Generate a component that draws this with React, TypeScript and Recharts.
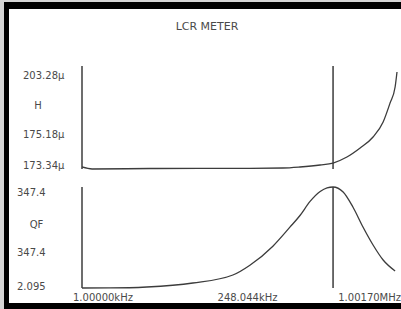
import { Line, LineChart, ReferenceLine, XAxis, YAxis } from "recharts";

// sweep position (0 = start frequency, 100 = stop frequency)
const sweepL = [0, 3.2, 21.6, 37.5, 53.3, 63.8, 69.2, 75.6, 79.7, 84.1, 88.3, 92.4, 95.6, 97.8, 99.4, 100];
const inductance = [173.96, 173.34, 173.49, 173.56, 173.56, 173.65, 173.96, 174.57, 175.18, 177.04, 179.82, 183.22, 187.85, 193.71, 198.65, 203.28];

const sweepQ = [0, 8.9, 20.6, 35.2, 47.9, 53.3, 60.6, 66.0, 69.2, 72.4, 75.6, 77.8, 79.7, 82.9, 86.0, 89.2, 92.4, 95.6, 99.4];
const qualityFactor = [2.095, 2.3, 5.5, 19.2, 46.5, 80.0, 145.0, 210.0, 250.0, 298.0, 332.0, 344.5, 347.4, 330.3, 279.0, 210.6, 149.1, 97.8, 60.2];

const markerStep = 79.7;

const lTicks = [173.34, 183.32, 193.3, 203.28];
const lTickLabels = ["173.34µ", "175.18µ", "H", "203.28µ"];
const qTicks = [2.095, 117.197, 232.298, 347.4];
const qTickLabels = ["2.095", "347.4", "QF", "347.4"];
const freqTicks = [0, 50, 100];
const freqLabels = ["1.00000kHz", "248.044kHz", "1.00170MHz"];

const lData = sweepL.map((s, i) => ({ s, l: inductance[i] }));
const qData = sweepQ.map((s, i) => ({ s, q: qualityFactor[i] }));

const ink = "#3c3c3c";
const textColor = "#4a4a4a";
const font = "'DejaVu Sans', sans-serif";

function makeYTick(labels: string[], nudge: number[], numX: number, unitX: number, unitIdx: number) {
  return (props: any) => {
    const i = props.index;
    const unit = i === unitIdx;
    return (
      <text
        x={unit ? unitX : numX}
        y={props.y + nudge[i]}
        textAnchor={unit ? "middle" : "start"}
        dominantBaseline="central"
        fill={textColor}
        fontSize={10}
        fontFamily={font}
      >
        {labels[i]}
      </text>
    );
  };
}

function FreqTick(props: any) {
  const i = props.index;
  const anchor = ["start", "middle", "end"][i] as "start" | "middle" | "end";
  const dx = [-9, 8, 4][i];
  return (
    <text
      x={props.x + dx}
      y={props.y + 1}
      textAnchor={anchor}
      dominantBaseline="central"
      fill={textColor}
      fontSize={10}
      fontFamily={font}
    >
      {freqLabels[i]}
    </text>
  );
}

export default function App() {
  return (
    <div style={{ position: "absolute", left: 0, top: 0, width: 401, height: 309, overflow: "hidden", background: "#000" }}>
      {/* grey page edge around the meter bezel */}
      <div style={{ position: "absolute", left: 0, top: 0, width: 4, height: 309, background: "#d5d5d5" }} />
      <div style={{ position: "absolute", left: 0, top: 0, width: 401, height: 2, background: "#d5d5d5" }} />

      {/* white screen, charts live only inside it */}
      <div style={{ position: "absolute", left: 9, top: 9, width: 392, height: 294, background: "#fff", overflow: "hidden" }}>
        <div
          style={{
            position: "absolute",
            left: 98,
            width: 200,
            top: 11,
            textAlign: "center",
            fontFamily: font,
            fontSize: 11,
            color: textColor,
          }}
        >
          LCR METER
        </div>

        <div style={{ position: "absolute", left: 0, top: 0 }}>
          <LineChart width={392} height={166} data={lData} margin={{ top: 57, right: 4, bottom: 6, left: 0 }}>
            <XAxis dataKey="s" type="number" domain={[0, 100]} hide />
            <YAxis
              type="number"
              domain={[173.34, 203.28]}
              ticks={lTicks}
              interval={0}
              width={73}
              padding={{ top: 6, bottom: 0 }}
              axisLine={{ stroke: ink, strokeWidth: 1.5 }}
              tickLine={false}
              tick={makeYTick(lTickLabels, [-4, -2, 1, 3], 14, 29, 2)}
            />
            <ReferenceLine x={markerStep} stroke={ink} strokeWidth={1.5} />
            <Line type="monotone" dataKey="l" stroke={ink} strokeWidth={1.3} dot={false} isAnimationActive={false} />
          </LineChart>
        </div>

        <div style={{ position: "absolute", left: 0, top: 171 }}>
          <LineChart width={392} height={123} data={qData} margin={{ top: 7, right: 4, bottom: 0, left: 0 }}>
            <XAxis
              dataKey="s"
              type="number"
              domain={[0, 100]}
              ticks={freqTicks}
              interval={0}
              height={15}
              axisLine={false}
              tickLine={false}
              tick={FreqTick}
            />
            <YAxis
              type="number"
              domain={[2.095, 347.4]}
              ticks={qTicks}
              interval={0}
              width={73}
              axisLine={{ stroke: ink, strokeWidth: 1.5 }}
              tickLine={false}
              tick={makeYTick(qTickLabels, [-2, -2, 4, 5], 8, 27.5, 2)}
            />
            <ReferenceLine x={markerStep} stroke={ink} strokeWidth={1.5} />
            <Line type="monotone" dataKey="q" stroke={ink} strokeWidth={1.3} dot={false} isAnimationActive={false} />
          </LineChart>
        </div>
      </div>
    </div>
  );
}
